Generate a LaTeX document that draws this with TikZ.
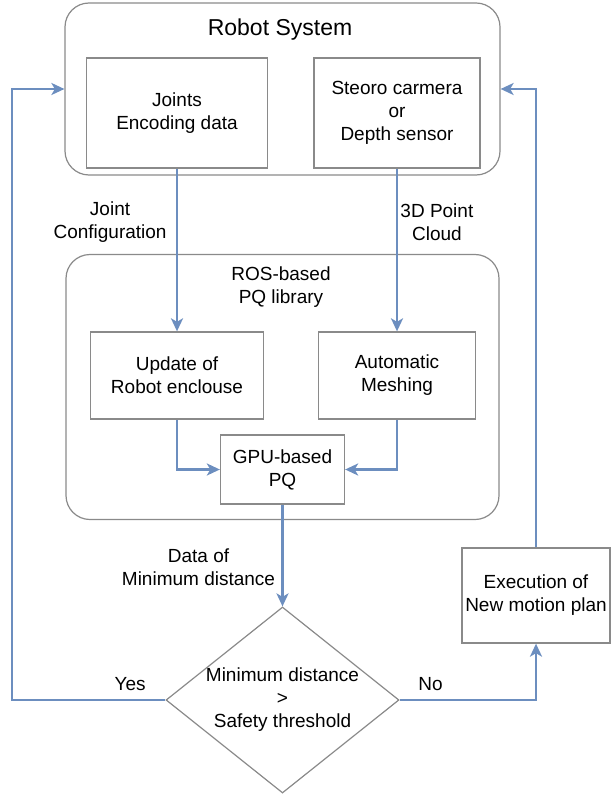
\documentclass[tikz,border=0pt]{standalone}
\usepackage{fontspec}
\setmainfont{Liberation Sans}
\usetikzlibrary{arrows.meta}
\usetikzlibrary{shapes.geometric}

\definecolor{flowblue}{HTML}{6C8EBF}
\definecolor{boxgray}{HTML}{8A8A8A}

\tikzset{
    group/.style={draw=boxgray, line width=1.2pt, rounded corners=24pt},
    block/.style={draw=boxgray, line width=1.3pt, align=center, inner sep=0pt},
    decision/.style={draw=boxgray, line width=1.2pt, diamond, inner sep=0pt},
    flow/.style={draw=flowblue, line width=2.9pt, -{Stealth[length=13pt,width=12pt,inset=3.5pt]}},
    note/.style={align=center, inner sep=0pt},
}

\begin{document}
\begin{tikzpicture}[x=1pt, y=-1pt, font=\fontsize{19}{23}\selectfont]
    \useasboundingbox (0, 0) rectangle (610, 794);

    \path (282.5, 89) node [group, minimum width=435, minimum height=172] (robot) {};
    \path (280, 30) node [note, font=\fontsize{23}{27}\selectfont] (robottitle) {Robot System};
    \path (177, 113) node [block, minimum width=181, minimum height=110] (joints) {Joints\\Encoding data};
    \path (397, 113) node [block, minimum width=166, minimum height=110] (stereo) {Steoro carmera\\or\\Depth sensor};

    \path (282.5, 387) node [group, minimum width=433, minimum height=265] (ros) {};
    \path (281, 287.5) node [note] (rostitle) {ROS-based\\PQ library};
    \path (177, 375.5) node [block, minimum width=173, minimum height=87] (update) {Update of\\Robot enclouse};
    \path (397, 375.5) node [block, minimum width=157, minimum height=87] (mesh) {Automatic\\Meshing};
    \path (282.5, 469.5) node [block, minimum width=124, minimum height=69] (gpu) {GPU-based\\PQ};

    \path (282.5, 700) node [decision, minimum width=233, minimum height=186] (check) {};
    \path (check.center) node [note] (checktext) {Minimum distance\\>\\Safety threshold};
    \path (536, 595.5) node [block, minimum width=148, minimum height=95] (exec) {Execution of\\New motion plan};

    \coordinate (yescorner) at (12, 700);

    \draw [flow] (joints) -- (update) node[pos=0.33,left=9pt,note] {Joint\\Configuration};
    \draw [flow] (stereo) -- (mesh) node[pos=0.33,right=2pt,note] {3D Point\\Cloud};
    \draw [flow] (update.south) |- (gpu.west);
    \draw [flow] (mesh.south) |- (gpu.east);
    \draw [flow] (gpu) -- (check.north) node[pos=0.61,left=6pt,note] {Data of\\Minimum distance};
    \draw [flow] (check.west) -- (yescorner) node[pos=0.23,above=8pt,note] {Yes} |- (robot.west);
    \draw [flow] (check.east) -| (exec.south) node[pos=0.113,above=8pt,note] {No};
    \draw [flow] (exec.north) |- (robot.east);
\end{tikzpicture}
\end{document}
